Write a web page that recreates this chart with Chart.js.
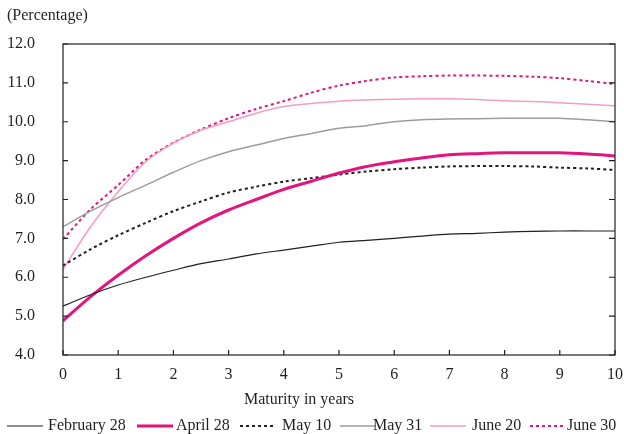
<!DOCTYPE html>
<html>
<head>
<meta charset="utf-8">
<script src="https://cdn.jsdelivr.net/npm/chart.js@4.4.1/dist/chart.umd.min.js"></script>
<style>
  html, body { margin: 0; padding: 0; background: #fff; }
</style>
</head>
<body>
<canvas id="yield-chart" width="624" height="434"></canvas>
<script>
// maturity points (years) and yields in percent
var maturities = [0, 0.5, 1, 1.5, 2, 2.5, 3, 3.5, 4, 4.5, 5, 5.5, 6, 6.5, 7, 7.5, 8, 8.5, 9, 9.5, 10];

var feb28 = [5.26, 5.55, 5.80, 6.00, 6.18, 6.35, 6.47, 6.60, 6.70, 6.80, 6.90, 6.95, 7.00, 7.06, 7.11, 7.13, 7.16, 7.18, 7.19, 7.19, 7.19];
var apr28 = [4.88, 5.50, 6.05, 6.55, 7.00, 7.40, 7.73, 8.00, 8.26, 8.47, 8.68, 8.85, 8.97, 9.07, 9.15, 9.18, 9.20, 9.20, 9.20, 9.17, 9.12];
var may10 = [6.30, 6.72, 7.08, 7.40, 7.70, 7.95, 8.18, 8.33, 8.46, 8.55, 8.64, 8.72, 8.78, 8.82, 8.85, 8.86, 8.86, 8.85, 8.82, 8.80, 8.76];
var may31 = [7.30, 7.70, 8.05, 8.37, 8.70, 9.00, 9.23, 9.40, 9.57, 9.70, 9.83, 9.90, 10.00, 10.05, 10.07, 10.08, 10.09, 10.09, 10.09, 10.05, 10.00];
var jun20 = [6.20, 7.30, 8.20, 8.97, 9.45, 9.78, 10.00, 10.22, 10.39, 10.47, 10.53, 10.56, 10.58, 10.59, 10.59, 10.57, 10.54, 10.52, 10.49, 10.45, 10.41];
var jun30 = [6.98, 7.75, 8.37, 9.02, 9.46, 9.80, 10.09, 10.33, 10.53, 10.75, 10.93, 11.05, 11.14, 11.17, 11.19, 11.19, 11.18, 11.16, 11.12, 11.05, 10.97];

var seriesNames = ["February 28", "April 28", "May 10", "May 31", "June 20", "June 30"];
var yMin = 4, yMax = 12;
var xMin = 0, xMax = 10;

var INK = '#231f20';
var FONT = '"Liberation Serif", "Times New Roman", serif';

function pts(vals) {
  return maturities.map(function(m, i) { return { x: m, y: vals[i] }; });
}

// frame, inward ticks, unit label, axis title and legend drawn by hand
var decorPlugin = {
  id: 'decor',
  afterDatasetsDraw: function(chart) {
    var ctx = chart.ctx, a = chart.chartArea;
    var xs = chart.scales.x, ys = chart.scales.y;
    ctx.save();
    ctx.strokeStyle = INK;
    ctx.lineWidth = 1.2;
    ctx.strokeRect(a.left, a.top, a.right - a.left, a.bottom - a.top);
    ctx.beginPath();
    ys.ticks.forEach(function(t) {
      var y = ys.getPixelForValue(t.value);
      ctx.moveTo(a.left, y); ctx.lineTo(a.left + 5, y);
      ctx.moveTo(a.right, y); ctx.lineTo(a.right - 6, y);
    });
    xs.ticks.forEach(function(t) {
      var x = xs.getPixelForValue(t.value);
      ctx.moveTo(x, a.bottom); ctx.lineTo(x, a.bottom - 5);
    });
    ctx.stroke();

    ctx.fillStyle = INK;
    ctx.font = '16px ' + FONT;
    ctx.textBaseline = 'middle';
    ctx.textAlign = 'left';
    ctx.fillText('(Percentage)', 7, 16);

    ctx.textAlign = 'center';
    ctx.fillText('Maturity in years', 299, 400);

    // legend
    ctx.textAlign = 'left';
    var lineStart = [7, 137, 240, 340, 430, 530];
    var textStart = [48, 176, 282, 373, 472, 567];
    var ly = 426;
    chart.data.datasets.forEach(function(ds, i) {
      ctx.save();
      ctx.strokeStyle = ds.borderColor;
      ctx.lineWidth = ds.borderWidth;
      ctx.setLineDash(ds.borderDash || []);
      ctx.beginPath();
      ctx.moveTo(lineStart[i], ly);
      ctx.lineTo(lineStart[i] + 36, ly);
      ctx.stroke();
      ctx.restore();
      ctx.fillText(ds.label, textStart[i], ly);
    });
    ctx.restore();
  }
};

var ctxYield = document.getElementById("yield-chart");

var yieldChart = new Chart(ctxYield, {
  type: 'line',
  data: {
    datasets: [
      { label: seriesNames[0], data: pts(feb28), borderColor: INK, borderWidth: 1.2 },
      { label: seriesNames[1], data: pts(apr28), borderColor: '#e2157d', borderWidth: 3 },
      { label: seriesNames[2], data: pts(may10), borderColor: INK, borderWidth: 2, borderDash: [3, 3] },
      { label: seriesNames[3], data: pts(may31), borderColor: '#9c9c9c', borderWidth: 1.5 },
      { label: seriesNames[4], data: pts(jun20), borderColor: '#f59cc2', borderWidth: 1.5 },
      { label: seriesNames[5], data: pts(jun30), borderColor: '#e2157d', borderWidth: 2, borderDash: [3, 3] }
    ]
  },
  options: {
    responsive: false,
    animation: false,
    elements: {
      point: { radius: 0 },
      line: { tension: 0.3, fill: false, backgroundColor: 'transparent' }
    },
    layout: { padding: { top: 44, right: 9, left: 0, bottom: 0 } },
    plugins: {
      legend: { display: false },
      tooltip: { enabled: false }
    },
    scales: {
      x: {
        type: 'linear',
        min: xMin,
        max: xMax,
        grid: { display: false, drawTicks: false },
        border: { display: false },
        ticks: {
          stepSize: 1,
          padding: 10,
          color: INK,
          font: { family: FONT, size: 16 },
          maxRotation: 0
        },
        afterFit: function(scale) {
          scale.height = 79;
          scale.paddingRight = 9;
          scale.paddingLeft = 0;
        }
      },
      y: {
        min: yMin,
        max: yMax,
        grid: { display: false, drawTicks: false },
        border: { display: false },
        ticks: {
          stepSize: 1,
          padding: 28,
          color: INK,
          font: { family: FONT, size: 16 },
          callback: function(v) { return v.toFixed(1); }
        },
        afterFit: function(scale) { scale.width = 63; }
      }
    }
  },
  plugins: [decorPlugin]
});
</script>
</body>
</html>
